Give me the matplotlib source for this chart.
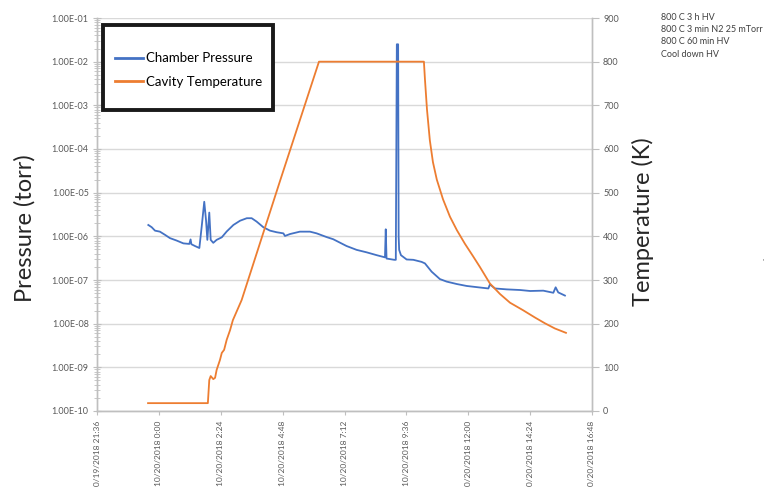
import matplotlib
matplotlib.use("Agg")
import matplotlib.pyplot as plt
import matplotlib.dates as mdates
import matplotlib.ticker as mticker
from matplotlib.lines import Line2D
from matplotlib.patches import Rectangle
import pandas as pd

plt.rcParams['font.family'] = ['Lato', 'DejaVu Sans']

# hours after 10/20/2018 0:00
pressure_h = [-0.41, -0.28, -0.15, 0.04, 0.24, 0.43, 0.69, 0.95, 1.18, 1.23, 1.26, 1.40, 1.57,
              1.66, 1.76, 1.83, 1.88, 1.955, 2.01, 2.11, 2.24, 2.44, 2.63, 2.89, 3.15, 3.41,
              3.60, 3.79, 4.05, 4.31, 4.57, 4.83, 4.89, 5.09, 5.47, 5.86, 6.12, 6.51, 6.76,
              7.28, 7.67, 8.06, 8.45, 8.77, 8.80, 8.83, 9.13, 9.19, 9.23, 9.25, 9.28, 9.30,
              9.32, 9.39, 9.61, 9.87, 10.19, 10.32, 10.58, 10.90, 11.16, 11.55, 11.94, 12.39,
              12.78, 12.84, 13.04, 13.49, 14.01, 14.40, 14.91, 15.30, 15.39, 15.49, 15.75]
pressure_torr = [1.82e-6, 1.62e-6, 1.35e-6, 1.28e-6, 1.08e-6, 9.1e-7, 8.0e-7, 6.9e-7, 6.7e-7,
                 8.5e-7, 6.6e-7, 6.0e-7, 5.4e-7, 1.65e-6, 6.2e-6, 2.3e-6, 8.3e-7, 3.5e-6, 8.3e-7,
                 7.1e-7, 8.3e-7, 9.5e-7, 1.29e-6, 1.82e-6, 2.28e-6, 2.6e-6, 2.6e-6, 2.18e-6,
                 1.62e-6, 1.35e-6, 1.24e-6, 1.17e-6, 1.02e-6, 1.13e-6, 1.28e-6, 1.28e-6, 1.17e-6,
                 9.6e-7, 8.6e-7, 6.0e-7, 4.9e-7, 4.3e-7, 3.7e-7, 3.3e-7, 1.45e-6, 3.1e-7, 2.9e-7,
                 2.9e-7, 2.5e-2, 2.5e-2, 2.5e-2, 1.0e-6, 4.9e-7, 3.7e-7, 2.95e-7, 2.9e-7, 2.6e-7,
                 2.4e-7, 1.55e-7, 1.05e-7, 9.2e-8, 8.1e-8, 7.3e-8, 6.8e-8, 6.4e-8, 7.9e-8, 6.4e-8,
                 6.1e-8, 5.9e-8, 5.6e-8, 5.7e-8, 5.1e-8, 6.8e-8, 5.2e-8, 4.4e-8]

temp_h = [-0.42, 1.90, 1.955, 2.01, 2.11, 2.18, 2.24, 2.37, 2.44, 2.53, 2.63, 2.76, 2.87, 3.21,
          4.70, 6.21, 10.28, 10.32, 10.40, 10.51, 10.63, 10.78, 11.02, 11.29, 11.56, 11.87,
          12.18, 12.45, 12.84, 13.23, 13.62, 14.12, 14.59, 14.97, 15.36, 15.79]
temp_k = [18, 18, 71, 80, 73, 76, 94, 117, 133, 140, 163, 185, 208, 254, 527, 800, 800, 760,
          690, 620, 570, 530, 485, 445, 414, 383, 355, 330, 292, 268, 248, 231, 214, 201, 189, 179]

notes = ["800 C 3 h HV", "800 C 3 min N2 25 mTorr", "800 C 60 min HV", "Cool down HV"]

base = pd.Timestamp("2018-10-20 00:00")
p_time = base + pd.to_timedelta(pressure_h, unit="h")
t_time = base + pd.to_timedelta(temp_h, unit="h")

blue = "#4472C4"
orange = "#ED7D31"
grey = "#595959"
axis_grey = "#BFBFBF"
W, H = 769, 487

fig = plt.figure(figsize=(W / 100, H / 100), dpi=100)
ax = fig.add_axes([97 / W, 1 - 411 / H, 495 / W, 393 / H])
ax2 = ax.twinx()

ax.plot(p_time, pressure_torr, color=blue, lw=1.3)
ax2.plot(t_time, temp_k, color=orange, lw=1.3)

ax.set_yscale("log")
ax.set_ylim(1e-10, 1e-1)
ax.yaxis.set_major_locator(mticker.LogLocator(base=10, numticks=20))
ax.yaxis.set_minor_locator(mticker.LogLocator(base=10, subs=range(2, 10), numticks=20))
ax.yaxis.set_major_formatter(mticker.FuncFormatter(lambda v, p: f"{v:.2E}"))
ax.yaxis.set_minor_formatter(mticker.NullFormatter())
ax.grid(axis="y", which="major", color="#D9D9D9", lw=1)

ax2.set_ylim(0, 900)
ax2.set_yticks(range(0, 901, 100))

start = pd.Timestamp("2018-10-19 21:36")
end = pd.Timestamp("2018-10-20 16:48")
ax.set_xlim(start, end)
ticks = pd.date_range(start, end, freq="144min")
ax.set_xticks(ticks)


def fmt_date(v, pos):
    d = mdates.num2date(v)
    return f"{d.month}/{d.day}/{d.year} {d.hour}:{d.minute:02d}"


ax.xaxis.set_major_formatter(mticker.FuncFormatter(fmt_date))
for lab in ax.get_xticklabels():
    lab.set_rotation(90)

for a in (ax, ax2):
    a.spines["top"].set_visible(False)
    for s in ("left", "right", "bottom"):
        a.spines[s].set_color(axis_grey)
        a.spines[s].set_linewidth(1)

ax.tick_params(axis="x", direction="out", length=3, color=axis_grey, labelsize=6,
               labelcolor=grey, pad=4)
ax.tick_params(axis="y", which="major", direction="inout", length=6, color=axis_grey,
               labelsize=6.5, labelcolor=grey, pad=3)
ax.tick_params(axis="y", which="minor", direction="inout", length=4, color=axis_grey)
ax2.tick_params(axis="y", direction="out", length=5, color=axis_grey, labelsize=6.5,
                labelcolor=grey, pad=3)

fig.text(25 / W, 1 - 228 / H, "Pressure (torr)", rotation=90, ha="center", va="center",
         fontsize=17, color="#262626")
fig.text(643 / W, 1 - 222 / H, "Temperature (K)", rotation=90, ha="center", va="center",
         fontsize=17, color="#262626")

for i, note in enumerate(notes):
    fig.text(661 / W, 1 - (17 + 12.5 * i) / H, note, ha="left", va="center",
             fontsize=6.5, color="#404040")
fig.text(763 / W, 1 - 262 / H, "'", ha="center", va="center", fontsize=5, color=grey)

# legend box
box = Rectangle((103 / W, 1 - 110 / H), 170 / W, 85 / H, transform=fig.transFigure,
                facecolor="white", edgecolor="#1a1a1a", linewidth=2.8, zorder=4, clip_on=False)
ax2.add_patch(box)
handles = [Line2D([], [], color=blue, lw=2), Line2D([], [], color=orange, lw=2)]
leg = ax2.legend(handles, ["Chamber Pressure", "Cavity Temperature"],
                 loc="center left", bbox_to_anchor=(115 / W, 1 - 70 / H),
                 bbox_transform=fig.transFigure, fontsize=9.5, frameon=False,
                 borderpad=0, labelspacing=0.86, handlelength=2.1, handletextpad=0.25,
                 borderaxespad=0)
leg.set_zorder(5)

fig.savefig("out.png", dpi=100)
